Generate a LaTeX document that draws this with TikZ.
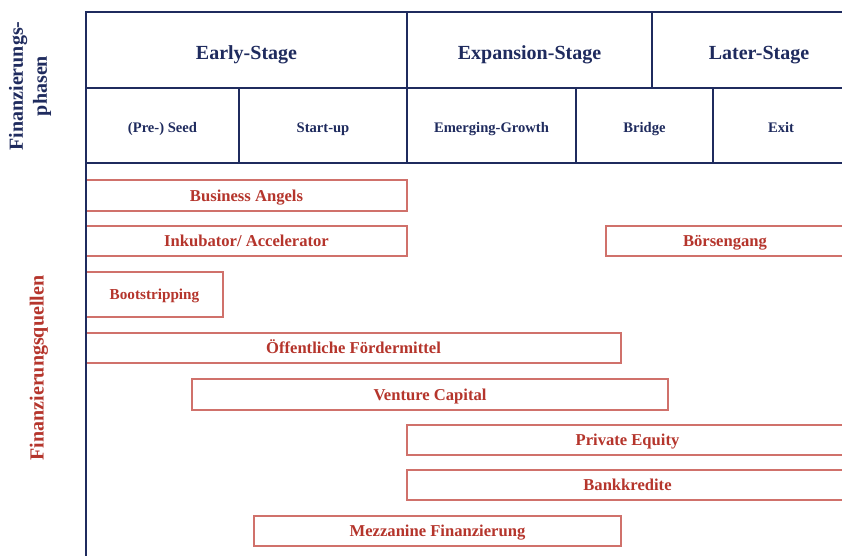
\documentclass[tikz,border=0pt]{standalone}
\usepackage{fontspec}
\setmainfont{Liberation Serif}
\definecolor{navy}{HTML}{1F2B5E}
\definecolor{redtxt}{HTML}{B5352C}
\definecolor{redline}{HTML}{D0716B}
\begin{document}
\begin{tikzpicture}[x=1pt,y=-1pt,
  cell/.style={draw=navy, line width=1.8pt, inner sep=0pt, outer sep=0pt, anchor=north west, text=navy, text depth=0pt},
  stagefont/.style={font=\bfseries\fontsize{20}{24}\selectfont, text height=18pt},
  phasefont/.style={font=\bfseries\fontsize{14.6}{18}\selectfont, text height=13pt},
  bar/.style={draw=redline, line width=1.2pt, inner sep=0pt, outer sep=0pt, anchor=north west, text=redtxt, text height=11pt, text depth=0pt, font=\bfseries\fontsize{16.6}{20}\selectfont},
  sidelabel/.style={rotate=90, align=center, font=\bfseries\fontsize{20}{24}\selectfont}]
\useasboundingbox (0,0) rectangle (842,555);
\fill[white] (0,0) rectangle (842,555);
% header row 1
\node[cell, stagefont, minimum width=321pt, minimum height=76pt] (early) at (86,12) {Early-Stage};
\node[cell, stagefont, minimum width=245pt, minimum height=76pt] (expansion) at (407,12) {Expansion-Stage};
\node[cell, stagefont, minimum width=214pt, minimum height=76pt] (later) at (652,12) {Later-Stage};
% header row 2
\node[cell, phasefont, minimum width=153pt, minimum height=75pt] (seed) at (86,88) {(Pre-) Seed};
\node[cell, phasefont, minimum width=168pt, minimum height=75pt] (startup) at (239,88) {Start-up};
\node[cell, phasefont, minimum width=169pt, minimum height=75pt] (emerging) at (407,88) {Emerging-Growth};
\node[cell, phasefont, minimum width=137pt, minimum height=75pt] (bridge) at (576,88) {Bridge};
\node[cell, phasefont, minimum width=136pt, minimum height=75pt] (exit) at (713,88) {Exit};
% side labels
\node[sidelabel, text=navy] (phasen) at (30,86) {Finanzierungs-\\phasen};
\node[sidelabel, text=redtxt] (quellen) at (39,368) {Finanzierungsquellen};
% bars
\node[bar, minimum width=321pt, minimum height=31pt] (angels) at (86,180) {Business Angels};
\node[bar, minimum width=321pt, minimum height=30pt] (inkubator) at (86,226) {Inkubator/ Accelerator};
\node[bar, minimum width=238pt, minimum height=30pt] (boerse) at (606,226) {Börsengang};
\node[bar, minimum width=137pt, minimum height=45pt, font=\bfseries\fontsize{15.2}{18}\selectfont, text height=10pt] (boot) at (86,272) {Bootstripping};
\node[bar, minimum width=535pt, minimum height=30pt] (foerder) at (86,333) {Öffentliche Fördermittel};
\node[bar, minimum width=476pt, minimum height=31pt] (venture) at (192,379) {Venture Capital};
\node[bar, minimum width=441pt, minimum height=30pt] (private) at (407,425) {Private Equity};
\node[bar, minimum width=441pt, minimum height=30pt] (bank) at (407,470) {Bankkredite};
\node[bar, minimum width=367pt, minimum height=30pt] (mezz) at (254,516) {Mezzanine Finanzierung};
% left axis
\coordinate (axisbot) at (86,557);
\draw[navy, line width=1.8pt] (early.north west) -- (axisbot);
\end{tikzpicture}
\end{document}
